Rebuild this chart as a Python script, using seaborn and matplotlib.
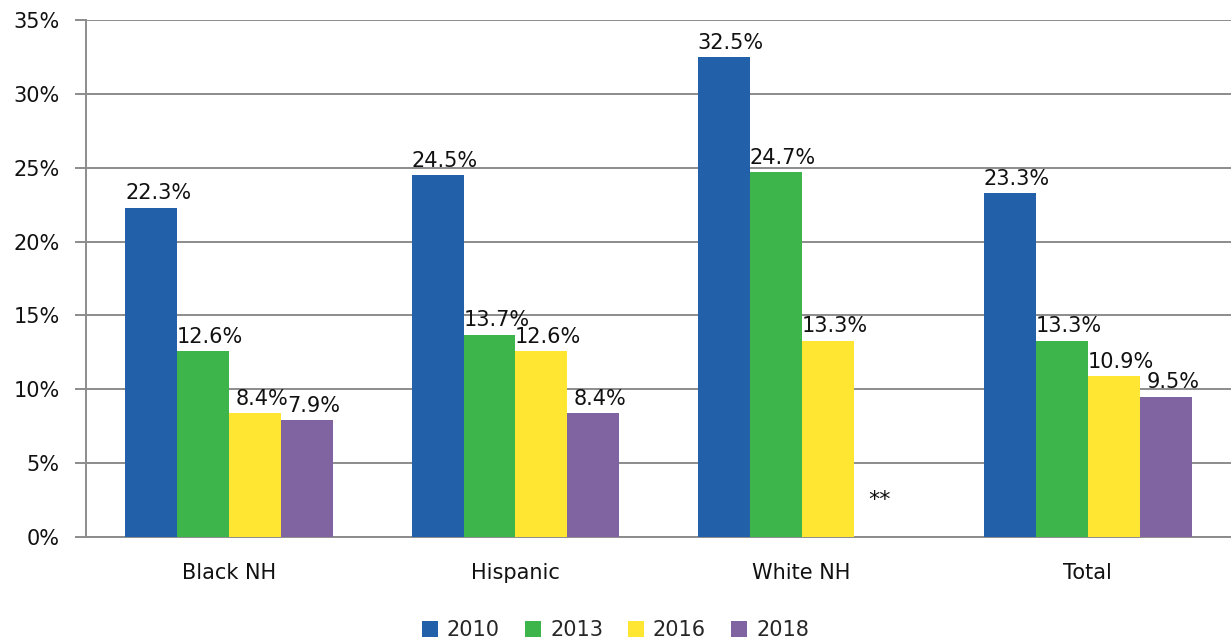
import numpy as np
import pandas as pd
import matplotlib
matplotlib.use("Agg")
import matplotlib.pyplot as plt
import seaborn as sns
from matplotlib.ticker import FixedLocator, PercentFormatter

groups = ["Black NH", "Hispanic", "White NH", "Total"]
years = ["2010", "2013", "2016", "2018"]
v2010 = [22.3, 24.5, 32.5, 23.3]
v2013 = [12.6, 13.7, 24.7, 13.3]
v2016 = [8.4, 12.6, 13.3, 10.9]
v2018 = [7.9, 8.4, np.nan, 9.5]  # White NH 2018 suppressed (**)
colors = ["#2260AA", "#3DB54A", "#FFE632", "#8064A2"]

rows = []
for yr, vals in zip(years, [v2010, v2013, v2016, v2018]):
    for g, v in zip(groups, vals):
        rows.append({"group": g, "year": yr, "value": v})
df = pd.DataFrame(rows)

sns.set_theme(style="white")
plt.rcParams["font.family"] = ["DejaVu Sans"]
FS = 15

fig = plt.figure(figsize=(12.31, 6.43), dpi=100)
ax = fig.add_axes([0.0699, 0.1649, 0.9301, 0.804])

width = 0.725
sns.barplot(data=df, x="group", y="value", hue="year", order=groups,
            hue_order=years, palette=colors, width=width, gap=0,
            saturation=1, errorbar=None, ax=ax, linewidth=0, zorder=3)

# value labels
for cont, yr in zip(ax.containers, years):
    for bar, g in zip(cont, groups):
        h = bar.get_height()
        if np.isnan(h):
            continue
        ax.annotate(f"{h:.1f}%", (bar.get_x() + bar.get_width() / 2, h),
                    xytext=(5, 3), textcoords="offset points",
                    ha="center", va="bottom", fontsize=FS, color="#111111",
                    zorder=5)

# suppressed value marker
gi = groups.index("White NH")
xs = gi - width / 2 + width / 8 * 7
ax.text(xs, 2.5, "**", ha="center", va="center", fontsize=FS + 1,
        color="#111111")

ax.set_xlim(-0.5, 3.5)
ax.set_ylim(0, 35)
ax.yaxis.set_major_locator(FixedLocator(np.arange(0, 36, 5)))
ax.yaxis.set_major_formatter(PercentFormatter(decimals=0))
ax.grid(axis="y", color="#8c8c8c", linewidth=1.4, zorder=0)
ax.set_axisbelow(True)

ax.xaxis.set_minor_locator(FixedLocator([-0.5, 0.5, 1.5, 2.5, 3.5]))
ax.tick_params(axis="x", which="major", length=0, pad=19, labelsize=FS,
               colors="#111111")
ax.tick_params(axis="x", which="minor", length=8, width=1.4, color="#8c8c8c",
               direction="out")
ax.tick_params(axis="y", which="major", length=8, width=1.4, color="#8c8c8c",
               direction="out", pad=11, labelsize=FS, labelcolor="#111111",
               left=True)

for s in ["top", "right"]:
    ax.spines[s].set_visible(False)
for s in ["left", "bottom"]:
    ax.spines[s].set_color("#8c8c8c")
    ax.spines[s].set_linewidth(1.4)

ax.set_xlabel("")
ax.set_ylabel("")
handles, labels = ax.get_legend_handles_labels()
ax.get_legend().remove()
fig.legend(handles, labels, loc="lower center", bbox_to_anchor=(0.5, -0.025),
           ncol=4, frameon=False, fontsize=FS, handlelength=0.75,
           handleheight=0.75, handletextpad=0.45, columnspacing=1.2)

fig.savefig("out.png", dpi=100)
